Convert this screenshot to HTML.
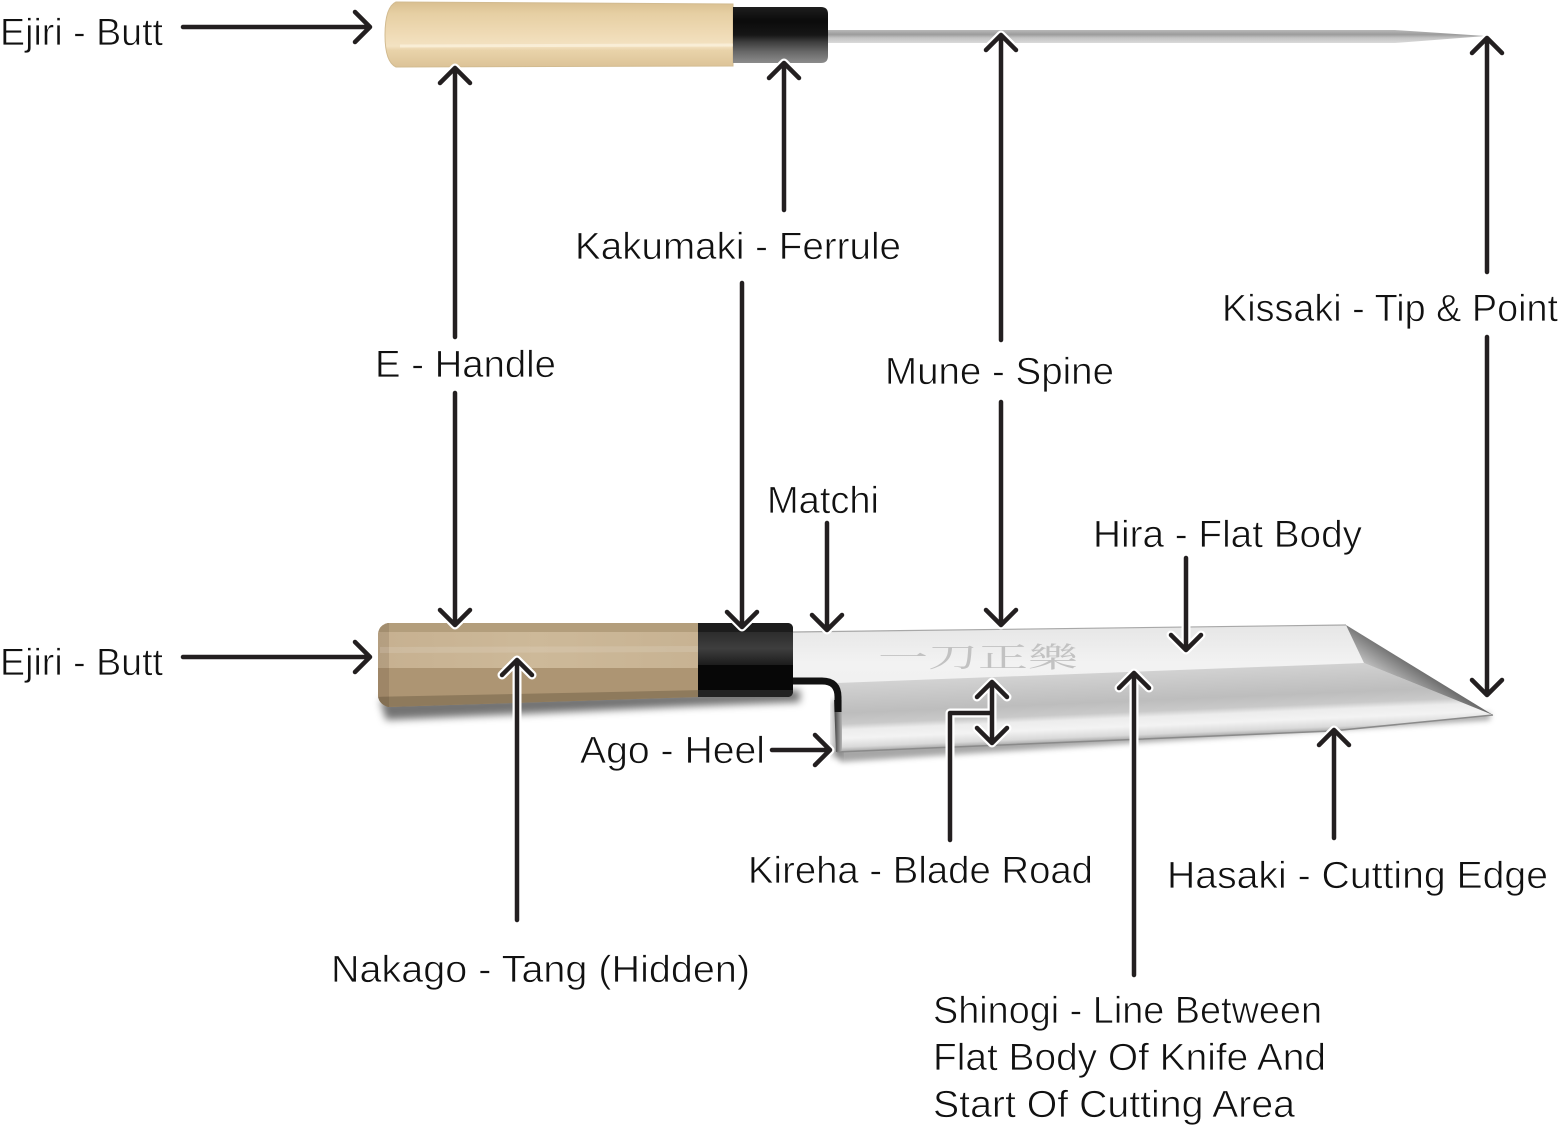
<!DOCTYPE html>
<html>
<head>
<meta charset="utf-8">
<style>
html,body{margin:0;padding:0;background:#fff;}
svg{display:block;}
text.l{font-family:"Liberation Sans","Noto Sans CJK JP",sans-serif;font-size:38px;fill:#111;stroke:#fff;stroke-width:0.7px;paint-order:fill;}
</style>
</head>
<body>
<svg width="1559" height="1128" viewBox="0 0 1559 1128" xmlns="http://www.w3.org/2000/svg">
<defs>
  <filter id="blur4" x="-20%" y="-100%" width="140%" height="300%"><feGaussianBlur stdDeviation="4"/></filter>
  <filter id="blur3" x="-20%" y="-100%" width="140%" height="300%"><feGaussianBlur stdDeviation="3"/></filter>

  <linearGradient id="thandle" x1="0" y1="0" x2="0" y2="1">
    <stop offset="0" stop-color="#d9bf90"/>
    <stop offset="0.18" stop-color="#e6cfa3"/>
    <stop offset="0.45" stop-color="#eed9b3"/>
    <stop offset="0.68" stop-color="#f3e2c2"/>
    <stop offset="0.74" stop-color="#e9d3aa"/>
    <stop offset="1" stop-color="#dcc397"/>
  </linearGradient>
  <linearGradient id="tferr" x1="0" y1="0" x2="0" y2="1">
    <stop offset="0" stop-color="#1e1e1e"/>
    <stop offset="0.25" stop-color="#0b0b0b"/>
    <stop offset="0.5" stop-color="#161616"/>
    <stop offset="0.62" stop-color="#3c3c3c"/>
    <stop offset="0.8" stop-color="#686868"/>
    <stop offset="1" stop-color="#8c8c8c"/>
  </linearGradient>
  <linearGradient id="tblade" x1="0" y1="0" x2="0" y2="1">
    <stop offset="0" stop-color="#b8b8b8"/>
    <stop offset="0.35" stop-color="#9c9c9c"/>
    <stop offset="0.6" stop-color="#c2c2c2"/>
    <stop offset="1" stop-color="#dadada"/>
  </linearGradient>

  <clipPath id="hclip"><path d="M388,623 L698,623 L698,697 L388,707 Q379,704 378,696 L378,634 Q379,625 388,623 Z"/></clipPath>
  <clipPath id="fclip"><path d="M698,623 L787,623 Q793,623 793,629 L793,691 Q793,697 787,697 L698,697 Z"/></clipPath>
  <linearGradient id="hface" x1="0" y1="0" x2="1" y2="0">
    <stop offset="0" stop-color="#c6b090"/>
    <stop offset="0.5" stop-color="#cdb999"/>
    <stop offset="1" stop-color="#c7b292"/>
  </linearGradient>
  <linearGradient id="fface" x1="0" y1="0" x2="0" y2="1">
    <stop offset="0" stop-color="#2c2c2c"/>
    <stop offset="0.5" stop-color="#3e3e3e"/>
    <stop offset="1" stop-color="#1c1c1c"/>
  </linearGradient>
  <linearGradient id="hira" x1="0" y1="0" x2="0" y2="1">
    <stop offset="0" stop-color="#e6e6e6"/>
    <stop offset="0.3" stop-color="#f2f2f2"/>
    <stop offset="1" stop-color="#ececec"/>
  </linearGradient>
  <linearGradient id="kireha" gradientUnits="userSpaceOnUse" x1="1100" y1="670" x2="1100" y2="742" gradientTransform="rotate(-2.4 1100 700)">
    <stop offset="0" stop-color="#d4d4d4"/>
    <stop offset="0.25" stop-color="#c7c7c7"/>
    <stop offset="0.45" stop-color="#bdbdbd"/>
    <stop offset="0.6" stop-color="#c9c9c9"/>
    <stop offset="0.68" stop-color="#ececec"/>
    <stop offset="0.8" stop-color="#f3f3f3"/>
    <stop offset="0.92" stop-color="#d9d9d9"/>
    <stop offset="1" stop-color="#9c9c9c"/>
  </linearGradient>
  <linearGradient id="tipface" gradientUnits="userSpaceOnUse" x1="1425" y1="660" x2="1405" y2="690">
    <stop offset="0" stop-color="#4e4e4e"/>
    <stop offset="0.5" stop-color="#858585"/>
    <stop offset="1" stop-color="#bdbdbd"/>
  </linearGradient>
  <linearGradient id="heeledge" x1="0" y1="0" x2="1" y2="0">
    <stop offset="0" stop-color="#3c3c3c"/>
    <stop offset="1" stop-color="#b5b5b5"/>
  </linearGradient>
</defs>

<!-- ============ TOP KNIFE ============ -->
<path d="M396,2 L733,4 L733,66 L396,67 Q385,62 385,35 Q385,7 396,2 Z" fill="url(#thandle)" stroke="#d2bb90" stroke-width="1"/>
<path d="M400,46 L733,45" stroke="rgba(255,250,235,0.5)" stroke-width="3"/>
<path d="M828,30 L1395,30 L1486,36 L1395,43 L828,43 Z" fill="url(#tblade)"/>
<path d="M733,7 L821,7 Q828,7 828,14 L828,56 Q828,63 821,63 L733,63 Z" fill="url(#tferr)"/>

<!-- ============ BOTTOM KNIFE ============ -->
<path d="M380,700 L698,692 L800,690 L800,702 L698,706 L386,720 Z" fill="rgba(0,0,0,0.55)" filter="url(#blur4)"/>
<path d="M836,748 L1490,713 L1490,720 L840,762 Z" fill="rgba(0,0,0,0.35)" filter="url(#blur3)"/>
<path d="M832,700 L840,700 L842,758 L832,758 Z" fill="rgba(0,0,0,0.3)" filter="url(#blur3)"/>

<g clip-path="url(#hclip)">
  <rect x="370" y="615" width="335" height="100" fill="#ae9674"/>
  <rect x="370" y="615" width="335" height="17" fill="#b39e7c"/>
  <rect x="370" y="632" width="335" height="36" fill="url(#hface)"/>
  <path d="M370,668 L705,668 L705,691 L370,698 Z" fill="#ad9573"/>
  <path d="M370,697 L705,690 L705,715 L370,715 Z" fill="#8e7a5c"/>
  <rect x="370" y="615" width="19" height="100" fill="rgba(60,40,20,0.13)"/>
  <path d="M380,650 L698,649" stroke="rgba(255,255,255,0.12)" stroke-width="6"/>
</g>
<g clip-path="url(#fclip)">
  <rect x="695" y="615" width="105" height="90" fill="#070707"/>
  <rect x="695" y="615" width="105" height="17" fill="#1c1c1c"/>
  <rect x="695" y="632" width="105" height="33" fill="url(#fface)"/>
  <rect x="695" y="690" width="105" height="10" fill="#232323"/>
</g>

<path d="M793,632 L1346,625 L1493,715 L837,752 L836,700 Q836,684 822,684 L793,684 Z" fill="url(#hira)"/>
<path d="M837,683 L1364,663 L1493,715 L1332,731 L837,752 Z" fill="url(#kireha)"/>
<path d="M1346,625 L1493,715 L1364,663 Z" fill="url(#tipface)"/>
<path d="M793,632 L1346,625" stroke="#a8a8a8" stroke-width="1.2" fill="none"/>
<path d="M837,752 L1332,731 L1493,715" stroke="#8a8a8a" stroke-width="1.5" fill="none"/>
<path d="M834,700 L842,700 L842,751 L836,752 Z" fill="url(#heeledge)"/>
<path d="M793,681 L822,681 Q838,681 838,697 L838,712" stroke="#111" stroke-width="7" fill="none"/>
<text x="878" y="667" textLength="200" lengthAdjust="spacingAndGlyphs" style="font-family:'Noto Serif CJK SC',serif;font-size:28px;fill:#c2c2c2;">一刀正樂</text>

<!-- ============ CONNECTORS ============ -->
<g id="arrows" fill="none" stroke-linecap="round" stroke-linejoin="round">
  <path d="M183,27 H370 M355,12 L370,27 L355,42"/>
  <path d="M183,657 H370 M355,642 L370,657 L355,672"/>
  <path d="M455,337 V68 M440,83 L455,68 L470,83"/>
  <path d="M455,393 V625 M440,610 L455,625 L470,610"/>
  <path d="M784,210 V63 M769,78 L784,63 L799,78"/>
  <path d="M742,283 V627 M727,612 L742,627 L757,612"/>
  <path d="M1001,340 V35 M986,50 L1001,35 L1016,50"/>
  <path d="M1001,402 V625 M986,610 L1001,625 L1016,610"/>
  <path d="M1487,272 V38 M1472,53 L1487,38 L1502,53"/>
  <path d="M1487,337 V695 M1472,680 L1487,695 L1502,680"/>
  <path d="M827,523 V630 M812,615 L827,630 L842,615"/>
  <path d="M1186,558 V650 M1171,635 L1186,650 L1201,635"/>
  <path d="M772,750 H830 M815,735 L830,750 L815,765"/>
  <path d="M517,920 V660 M502,675 L517,660 L532,675"/>
  <path d="M950,840 V713 H992 M992,682 V743 M977,697 L992,682 L1007,697 M977,728 L992,743 L1007,728"/>
  <path d="M1134,975 V673 M1119,688 L1134,673 L1149,688"/>
  <path d="M1334,838 V730 M1319,745 L1334,730 L1349,745"/>
</g>
<use href="#arrows" stroke="#ffffff" stroke-width="9"/>
<use href="#arrows" stroke="#231f20" stroke-width="4.5"/>

<!-- ============ LABELS ============ -->
<text class="l" x="0" y="45" textLength="163" lengthAdjust="spacingAndGlyphs">Ejiri - Butt</text>
<text class="l" x="0" y="675" textLength="163" lengthAdjust="spacingAndGlyphs">Ejiri - Butt</text>
<text class="l" x="575" y="259" textLength="326" lengthAdjust="spacingAndGlyphs">Kakumaki - Ferrule</text>
<text class="l" x="375" y="377" textLength="181" lengthAdjust="spacingAndGlyphs">E - Handle</text>
<text class="l" x="885" y="384" textLength="229" lengthAdjust="spacingAndGlyphs">Mune - Spine</text>
<text class="l" x="1222" y="321" textLength="336" lengthAdjust="spacingAndGlyphs">Kissaki - Tip &amp; Point</text>
<text class="l" x="767" y="513" textLength="112" lengthAdjust="spacingAndGlyphs">Matchi</text>
<text class="l" x="1093" y="547" textLength="269" lengthAdjust="spacingAndGlyphs">Hira - Flat Body</text>
<text class="l" x="580" y="763" textLength="185" lengthAdjust="spacingAndGlyphs">Ago - Heel</text>
<text class="l" x="748" y="883" textLength="345" lengthAdjust="spacingAndGlyphs">Kireha - Blade Road</text>
<text class="l" x="1167" y="888" textLength="381" lengthAdjust="spacingAndGlyphs">Hasaki - Cutting Edge</text>
<text class="l" x="331" y="982" textLength="419" lengthAdjust="spacingAndGlyphs">Nakago - Tang (Hidden)</text>
<text class="l" x="933" y="1023" textLength="389" lengthAdjust="spacingAndGlyphs">Shinogi - Line Between</text>
<text class="l" x="933" y="1070" textLength="393" lengthAdjust="spacingAndGlyphs">Flat Body Of Knife And</text>
<text class="l" x="933" y="1117" textLength="362" lengthAdjust="spacingAndGlyphs">Start Of Cutting Area</text>
</svg>
</body>
</html>
